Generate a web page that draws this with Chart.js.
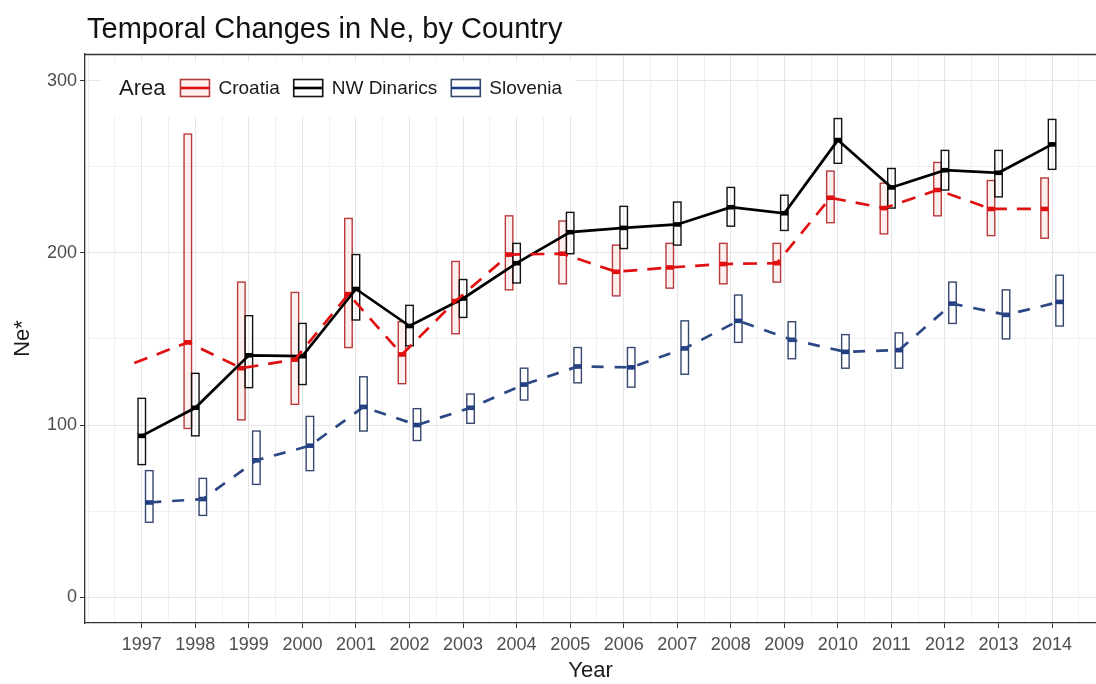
<!DOCTYPE html>
<html>
<head>
<meta charset="utf-8">
<title>Temporal Changes in Ne, by Country</title>
<script src="https://cdn.jsdelivr.net/npm/chart.js@4.4.1/dist/chart.umd.min.js"></script>
<style>
    html, body { margin: 0; padding: 0; background: #fff; }
    #wrap { width: 1096px; height: 684px; }
</style>
</head>
<body>
<div id="wrap"><canvas id="neChart" width="1096" height="684"></canvas></div>
<script>
// Data
const years = [1997, 1998, 1999, 2000, 2001, 2002, 2003, 2004, 2005, 2006, 2007, 2008, 2009, 2010, 2011, 2012, 2013, 2014];

const croatiaNe   = [136, 148, 133, 138, 176, 141, 172, 199, 199.5, 189, 191.5, 193.5, 194, 232, 226, 236.5, 225.5, 225.5];
const croatiaLow  = [null, 98, 103, 112, 145, 124, 153, 178.5, 182, 175, 179.5, 182, 183, 217.5, 211, 221.5, 210, 208.5];
const croatiaHigh = [null, 269, 183, 177, 220, 160, 195, 221.5, 218.5, 204.5, 205.5, 205.5, 205.5, 247.5, 240.5, 252.5, 242, 243.5];

const dinaricsNe   = [93.7, 110, 140.5, 140, 179, 157.5, 173.5, 194, 212, 214.5, 216.5, 226.5, 223, 265.5, 238, 248, 246.5, 263];
const dinaricsLow  = [77, 93.7, 121.7, 123.5, 161, 146, 162.5, 182.5, 199.5, 202.5, 204.5, 215.5, 213, 252, 226, 236.5, 232.5, 248.5];
const dinaricsHigh = [115.5, 130, 163.5, 159, 199, 169.5, 184.5, 205.5, 223.5, 227, 229.5, 238, 233.5, 278, 249, 259.5, 259.5, 277.5];

const sloveniaNe   = [55, 57, 79.5, 88, 110.5, 100, 110, 123.5, 134, 133.5, 144.5, 160.5, 149.5, 142.5, 143.5, 170.5, 164, 171.5];
const sloveniaLow  = [43.5, 47.5, 65.5, 73.5, 96.5, 91, 101, 114.5, 124.5, 122, 129.5, 148, 138.5, 133, 133, 159, 150, 157.5];
const sloveniaHigh = [73.5, 69, 96.5, 105, 128, 109.5, 118, 133, 145, 145, 160.5, 175.5, 160, 152.5, 153.5, 183, 178.5, 187];

const yTicks = [0, 100, 200, 300];
const areaNames = ['Croatia', 'NW Dinarics', 'Slovenia'];

// Layout / style constants
const DODGE = 0.14;        // year units between dodged groups
const BOX_HALF = 0.07;     // half width of a crossbar, year units
const FONT = "'Liberation Sans', Arial, sans-serif";

const series = [
    { name: areaNames[0], ne: croatiaNe, low: croatiaLow, high: croatiaHigh, shift: -1,
      line: '#e01010', box: '#b83a3a', fill: 'rgba(255, 170, 170, 0.18)', mid: '#e01010', dash: [14, 10] },
    { name: areaNames[1], ne: dinaricsNe, low: dinaricsLow, high: dinaricsHigh, shift: 0,
      line: '#000000', box: '#111111', fill: 'rgba(0, 0, 0, 0)', mid: '#000000', dash: [] },
    { name: areaNames[2], ne: sloveniaNe, low: sloveniaLow, high: sloveniaHigh, shift: 1,
      line: '#2b4784', box: '#36486e', fill: 'rgba(255, 255, 255, 0.6)', mid: '#203c82', dash: [12, 11] }
];

function isMajor(v, list) {
    return list.some(t => Math.abs(t - v) < 1e-6);
}

/**
 * Draws the crossbars (box from low to high, thick bar at the estimate).
 */
const crossbarPlugin = {
    id: 'crossbars',
    beforeDatasetsDraw(chart) {
        const { ctx, scales: { x, y }, chartArea } = chart;
        ctx.save();
        ctx.beginPath();
        ctx.rect(chartArea.left, chartArea.top, chartArea.right - chartArea.left, chartArea.bottom - chartArea.top);
        ctx.clip();
        series.forEach(s => {
            years.forEach((yr, i) => {
                const cx = yr + s.shift * DODGE;
                const x0 = x.getPixelForValue(cx - BOX_HALF);
                const x1 = x.getPixelForValue(cx + BOX_HALF);
                const yMid = y.getPixelForValue(s.ne[i]);
                if (s.low[i] !== null && s.high[i] !== null) {
                    const yTop = y.getPixelForValue(s.high[i]);
                    const yBot = y.getPixelForValue(s.low[i]);
                    ctx.fillStyle = s.fill;
                    ctx.fillRect(x0, yTop, x1 - x0, yBot - yTop);
                    ctx.strokeStyle = s.box;
                    ctx.lineWidth = 1.4;
                    ctx.strokeRect(x0, yTop, x1 - x0, yBot - yTop);
                    ctx.fillStyle = s.mid;
                    ctx.fillRect(x0, yMid - 2.3, x1 - x0, 4.6);
                }
            });
        });
        ctx.restore();
    }
};

/**
 * Title, top panel border and the legend box inside the panel.
 */
const decorPlugin = {
    id: 'decor',
    afterDraw(chart) {
        const { ctx, chartArea } = chart;
        ctx.save();

        // top border of panel
        ctx.strokeStyle = '#333333';
        ctx.lineWidth = 1.3;
        ctx.beginPath();
        ctx.moveTo(chartArea.left, chartArea.top + 0.5);
        ctx.lineTo(chartArea.right, chartArea.top + 0.5);
        ctx.stroke();

        // title
        ctx.fillStyle = '#111111';
        ctx.font = '29px ' + FONT;
        ctx.textBaseline = 'alphabetic';
        ctx.textAlign = 'left';
        ctx.fillText('Temporal Changes in Ne, by Country', 87, 38);

        // legend background
        ctx.fillStyle = '#ffffff';
        ctx.fillRect(101, 62, 474, 54);

        const cy = 88;
        ctx.fillStyle = '#1a1a1a';
        ctx.font = '22px ' + FONT;
        ctx.textBaseline = 'middle';
        ctx.fillText('Area', 119, cy + 1);
        let xPos = 119 + ctx.measureText('Area').width + 15;

        ctx.font = '19px ' + FONT;
        series.forEach(s => {
            const kw = 29, kh = 17;
            ctx.fillStyle = s.fill;
            ctx.fillRect(xPos, cy - kh / 2, kw, kh);
            ctx.strokeStyle = s.box;
            ctx.lineWidth = 1.6;
            ctx.strokeRect(xPos, cy - kh / 2, kw, kh);
            ctx.strokeStyle = s.mid;
            ctx.lineWidth = 2.6;
            ctx.beginPath();
            ctx.moveTo(xPos, cy);
            ctx.lineTo(xPos + kw, cy);
            ctx.stroke();
            ctx.fillStyle = '#1a1a1a';
            ctx.fillText(s.name, xPos + kw + 9, cy + 1);
            xPos += kw + 9 + ctx.measureText(s.name).width + 14;
        });
        ctx.restore();
    }
};

const xTickValues = [];
for (let v = 1996; v <= 2014.5; v += 0.5) xTickValues.push(v);
const yTickValues = [];
for (let v = 0; v <= 300; v += 50) yTickValues.push(v);

const datasets = series.map(s => ({
    label: s.name,
    data: years.map((yr, i) => ({ x: yr + s.shift * DODGE, y: s.ne[i] })),
    borderColor: s.line,
    borderWidth: 2.7,
    borderDash: s.dash,
    pointRadius: 0,
    tension: 0,
    fill: false
}));

new Chart(document.getElementById('neChart'), {
    type: 'line',
    data: { datasets: datasets },
    plugins: [crossbarPlugin, decorPlugin],
    options: {
        responsive: false,
        animation: false,
        layout: { padding: { top: 54, right: 0, left: 0, bottom: 0 } },
        plugins: { legend: { display: false }, tooltip: { enabled: false }, title: { display: false } },
        scales: {
            x: {
                type: 'linear',
                min: 1995.94,
                max: 2014.82,
                afterBuildTicks: axis => { axis.ticks = xTickValues.map(v => ({ value: v })); },
                afterFit: axis => { axis.height = 61; },
                ticks: {
                    autoSkip: false,
                    maxRotation: 0,
                    padding: 6,
                    color: '#4d4d4d',
                    font: { family: FONT, size: 18 },
                    callback: v => (isMajor(v, years) ? String(v) : '')
                },
                grid: {
                    color: c => (isMajor(c.tick.value, years) ? '#e6e6e6' : '#f0f0f0'),
                    tickColor: c => (isMajor(c.tick.value, years) ? '#333333' : 'rgba(0,0,0,0)'),
                    tickLength: 5,
                    lineWidth: 1
                },
                border: { display: true, color: '#333333', width: 1.3 },
                title: { display: true, text: 'Year', color: '#1a1a1a', font: { family: FONT, size: 22 }, padding: { bottom: 0 } }
            },
            y: {
                type: 'linear',
                min: -15,
                max: 315.5,
                afterBuildTicks: axis => { axis.ticks = yTickValues.map(v => ({ value: v })); },
                afterFit: axis => { axis.width = 85; },
                ticks: {
                    padding: 3,
                    color: '#4d4d4d',
                    font: { family: FONT, size: 18 },
                    callback: v => (isMajor(v, yTicks) ? String(v) : '')
                },
                grid: {
                    color: c => (isMajor(c.tick.value, yTicks) ? '#e6e6e6' : '#f0f0f0'),
                    tickColor: c => (isMajor(c.tick.value, yTicks) ? '#333333' : 'rgba(0,0,0,0)'),
                    tickLength: 5,
                    lineWidth: 1
                },
                border: { display: true, color: '#333333', width: 1.3 },
                title: { display: true, text: 'Ne*', color: '#1a1a1a', font: { family: FONT, size: 22 }, padding: { top: 10 } }
            }
        }
    }
});
</script>
</body>
</html>
